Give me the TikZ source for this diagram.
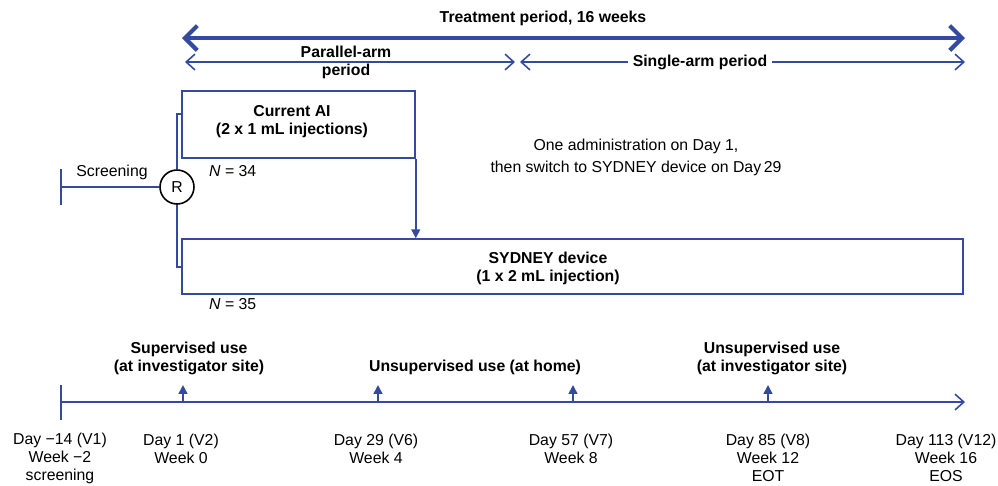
\documentclass[tikz,border=0pt]{standalone}
\usepackage{fontspec}
\setmainfont{Liberation Sans}
\usepackage{tikz}
\usetikzlibrary{arrows.meta,positioning}
\definecolor{trialblue}{RGB}{52,74,160}

\begin{document}
\begin{tikzpicture}[x=0.02cm,y=-0.02cm,font=\fontsize{9}{10.3}\selectfont,
    line/.style={draw=trialblue,line width=0.9pt},
    span/.style={line,{Straight Barb[length=5pt,width=9pt]}-{Straight Barb[length=5pt,width=9pt]}},
    armbox/.style={draw=trialblue,line width=0.9pt,inner sep=0pt},
    head/.style={font=\fontsize{9}{10.3}\selectfont\bfseries,align=center},
    visit/.style={line,-{Triangle[length=5pt,width=5pt]}},
    lbl/.style={align=center}]
    \useasboundingbox (0,0) rectangle (998,485);

    \node[head] (title) at (543,18) {Treatment period, 16 weeks};
    \coordinate (ts) at (182,38);
    \coordinate (te) at (965,38);
    \draw[trialblue,line width=2.4pt,{Straight Barb[length=7pt,width=14pt]}-{Straight Barb[length=7pt,width=14pt]}] (ts) -- (te);

    \coordinate (ps) at (185,62);
    \coordinate (pe) at (515,62);
    \coordinate (ss) at (520,62);
    \coordinate (se) at (965,62);
    \draw[span] (ps) -- (pe);
    \draw[span] (ss) -- (se);
    \node[head] (par) at (346,62.5) {Parallel-arm\\[-0.5pt]period};
    \node[head,fill=white,inner sep=3pt] (sing) at (700,62) {Single-arm period};

    \node[armbox,minimum width=4.66cm,minimum height=1.34cm] (cur) at (298.5,124.5) {};
    \node[head] (curtxt) at (292,122) {Current AI\\(2 x 1 mL injections)};
    \node[armbox,minimum width=15.62cm,minimum height=1.1cm] (syd) at (572.5,266.5) {};
    \node[head] (sydtxt) at (548,268.5) {SYDNEY device\\(1 x 2 mL injection)};
    \node[anchor=west] (n34) at (203,171) {\textit{N} = 34};
    \node[anchor=west] (n35) at (203,304) {\textit{N} = 35};

    \node[draw,circle,line width=0.9pt,minimum size=0.68cm,inner sep=0pt] (R) at (177,187) {R};
    \coordinate (scr) at (61,187);
    \draw[line] (scr) -- (R.west);
    \draw[line] (scr) ++(0,-18) -- ++(0,36);
    \node (scrtxt) at (112,172) {Screening};
    \coordinate (curin) at (182,114);
    \coordinate (sydin) at (182,267);
    \draw[line] (R.north) |- (curin);
    \draw[line] (R.south) |- (sydin);
    \draw[line,-{Triangle[length=5pt,width=5pt]}] (cur.south east) -- (cur.south east |- syd.north);
    \node[lbl] (switch) at (636,157.5) {One administration on Day 1,\\[2pt]then switch to SYDNEY device on Day\,29};

    \coordinate (t0) at (61,402);
    \coordinate (t1) at (965,402);
    \draw[line,-{Straight Barb[length=5pt,width=9pt]}] (t0) -- (t1);
    \draw[line] (t0) ++(0,-17) -- ++(0,35);
    \foreach \x/\name in {183/v2,378/v6,573/v7,768/v8}{
        \coordinate (\name) at (\x,402);
        \draw[visit] (\name) -- ++(0,-17);
    }
    \node[head] (sup) at (189,358) {Supervised use\\(at investigator site)};
    \node[head] (home) at (475,367) {Unsupervised use (at home)};
    \node[head] (unsup) at (772,358) {Unsupervised use\\(at investigator site)};

    \node[lbl] (d1) at (60,458) {Day −14 (V1)\\Week −2\\screening};
    \node[lbl] (d2) at (181,449) {Day 1 (V2)\\Week 0};
    \node[lbl] (d6) at (376,449) {Day 29 (V6)\\Week 4};
    \node[lbl] (d7) at (571,449) {Day 57 (V7)\\Week 8};
    \node[lbl] (d8) at (768,458) {Day 85 (V8)\\Week 12\\EOT};
    \node[lbl] (d12) at (946,458) {Day 113 (V12)\\Week 16\\EOS};
\end{tikzpicture}
\end{document}
